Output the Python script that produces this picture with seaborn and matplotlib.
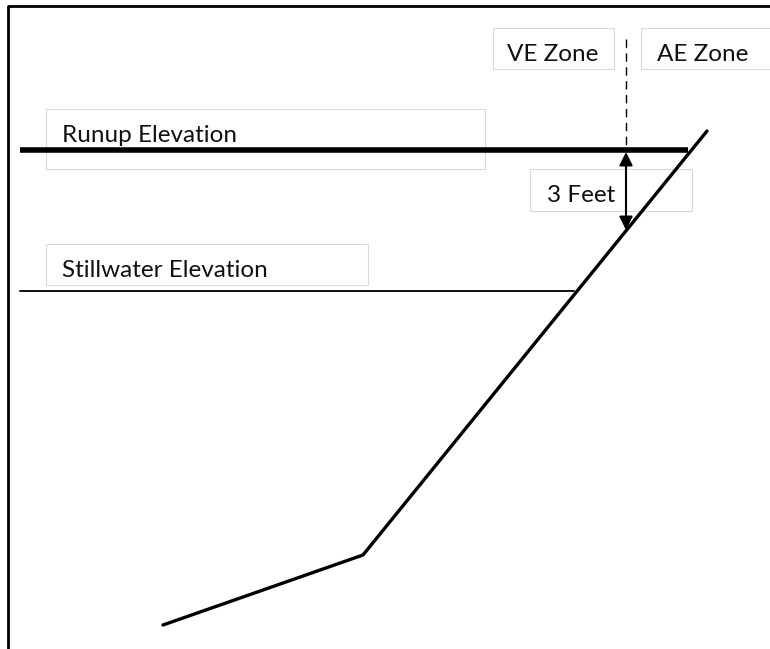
import matplotlib
matplotlib.use("Agg")
import matplotlib.pyplot as plt
import matplotlib.patches as mpatches
import seaborn as sns
import pandas as pd

# Diagram units follow the picture (x to the right, y downward)
profile_x = [163, 363, 707]
profile_y = [625, 555, 131]

runup_x = [20, 688]
runup_y = 150
stillwater_x = [20, 574]
stillwater_y = 291

zone_x = 626
zone_top = 39
freeboard_bottom = 230

labels = ["Runup Elevation", "Stillwater Elevation", "VE Zone", "AE Zone", "3 Feet"]
# box: left, top, right, bottom ; text baseline x, y
label_boxes = [(46, 109, 485, 169), (46, 244, 368, 285), (493, 28, 614, 69),
               (641, 28, 780, 69), (530, 169, 692, 211)]
label_pos = [(62, 142), (62, 277), (507, 61), (657, 61), (547, 202)]

sns.set_theme(style="white")
plt.rcParams['font.family'] = ['Lato', 'DejaVu Sans']

fig = plt.figure(figsize=(7.7, 6.49), dpi=100)
ax = fig.add_axes([0, 0, 1, 1])
ax.set_xlim(0, 770)
ax.set_ylim(649, 0)
ax.axis('off')

# frame
ax.plot([8, 8, 770], [649, 6, 6], color='black', lw=2)

# label boxes and text
for name, (l, t, r, b), (tx, ty) in zip(labels, label_boxes, label_pos):
    ax.add_patch(mpatches.Rectangle((l, t), r - l, b - t, facecolor='white',
                                    edgecolor='#d9d9d9', lw=0.8, zorder=1))
    ax.text(tx, ty, name, fontsize=17.5, va='baseline', ha='left', color='#111111', zorder=2)

# elevation lines
ax.plot(runup_x, [runup_y, runup_y], color='black', lw=4, solid_capstyle='butt', zorder=3)
ax.plot(stillwater_x, [stillwater_y, stillwater_y], color='black', lw=1.3, zorder=3)

# shore profile
prof = pd.DataFrame({'x': profile_x, 'y': profile_y})
sns.lineplot(data=prof, x='x', y='y', sort=False, color='black', lw=2.4, ax=ax, zorder=3)
ax.set_xlim(0, 770)
ax.set_ylim(649, 0)

# zone boundary
ax.plot([zone_x, zone_x], [zone_top, runup_y], color='black', lw=1, ls=(0, (6, 4)), zorder=3)

# 3 ft arrow
ax.annotate('', xy=(zone_x, freeboard_bottom), xytext=(zone_x, runup_y + 2),
            arrowprops=dict(arrowstyle='<|-|>', color='black', lw=1.5,
                            mutation_scale=20, shrinkA=0, shrinkB=0), zorder=4)

fig.savefig('out.png', dpi=100)
